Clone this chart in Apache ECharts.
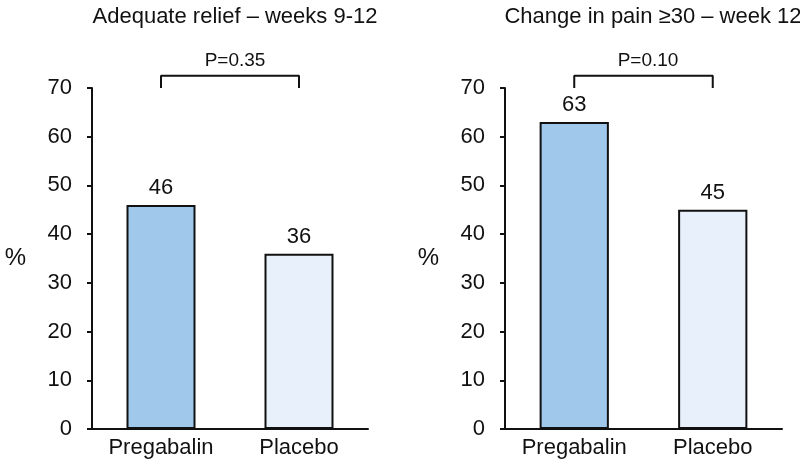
<!DOCTYPE html>
<html>
<head>
<meta charset="utf-8">
<script src="https://cdn.jsdelivr.net/npm/echarts@6/dist/echarts.min.js"></script>
<style>html,body{margin:0;padding:0;background:#fff}#c{width:800px;height:464px}</style>
</head>
<body>
<div id="c"></div>
<script>
var categories = ['Pregabalin', 'Placebo'];
var reliefValues = [46, 36];
var painValues = [63, 45];
var chartTitles = ['Adequate relief \u2013 weeks 9-12', 'Change in pain \u226530 \u2013 week 12'];
var pValues = ['P=0.35', 'P=0.10'];
var bracketTop = 72.5;
var bracketBase = 70;
var yTicks = [0, 10, 20, 30, 40, 50, 60, 70];

var barColors = ['#9fc8ea', '#e8f1fb'];
var font = 'Liberation Sans, Arial, sans-serif';
var ink = '#111';

var chart = echarts.init(document.getElementById('c'), null, {renderer: 'canvas'});

function yAxis(gi) {
  return {
    gridIndex: gi, type: 'value', min: yTicks[0], max: yTicks[yTicks.length - 1], interval: 10,
    name: '%', nameLocation: 'middle', nameRotate: 0, nameGap: 66,
    nameTextStyle: {fontFamily: font, fontSize: 24, color: ink, padding: [6, 0, 0, 0]},
    axisLine: {show: true, lineStyle: {color: ink, width: 2}},
    axisTick: {show: true, length: 5, lineStyle: {color: ink, width: 2}},
    axisLabel: {fontFamily: font, fontSize: 22, color: ink, margin: 20},
    splitLine: {show: false}
  };
}
function xAxis(gi) {
  return {
    gridIndex: gi, type: 'category', data: categories,
    axisLine: {show: true, lineStyle: {color: ink, width: 2}},
    axisTick: {show: false},
    axisLabel: {fontFamily: font, fontSize: 22, color: ink, margin: 8}
  };
}
function barSeries(gi, vals) {
  return {
    type: 'bar', xAxisIndex: gi, yAxisIndex: gi, data: vals, barWidth: '50%',
    itemStyle: {color: function (p) { return barColors[p.dataIndex]; }, borderColor: ink, borderWidth: 2},
    label: {show: true, position: 'top', distance: 6, fontFamily: font, fontSize: 22, color: ink},
    emphasis: {disabled: true}, animation: false
  };
}
function bracketSeries(gi) {
  return {
    type: 'line', xAxisIndex: gi, yAxisIndex: gi, clip: false, symbol: 'none',
    lineStyle: {color: ink, width: 2}, silent: true, animation: false,
    data: [[categories[0], bracketBase], [categories[0], bracketTop], [categories[1], bracketTop], [categories[1], bracketBase]]
  };
}

chart.setOption({
  backgroundColor: '#fff',
  animation: false,
  title: [
    {text: chartTitles[0], left: 230, top: 1, textAlign: 'center', textStyle: {fontFamily: font, fontSize: 22, fontWeight: 'normal', color: ink}},
    {text: chartTitles[1], left: 648, top: 1, textAlign: 'center', textStyle: {fontFamily: font, fontSize: 22, fontWeight: 'normal', color: ink}},
    {text: pValues[0], left: 230, top: 46, textAlign: 'center', textStyle: {fontFamily: font, fontSize: 19, fontWeight: 'normal', color: ink}},
    {text: pValues[1], left: 643, top: 46, textAlign: 'center', textStyle: {fontFamily: font, fontSize: 19, fontWeight: 'normal', color: ink}}
  ],
  grid: [
    {left: 92, top: 88, width: 276, height: 341},
    {left: 505, top: 88, width: 277, height: 341}
  ],
  xAxis: [xAxis(0), xAxis(1)],
  yAxis: [yAxis(0), yAxis(1)],
  series: [barSeries(0, reliefValues), barSeries(1, painValues), bracketSeries(0), bracketSeries(1)]
});
</script>
</body>
</html>
